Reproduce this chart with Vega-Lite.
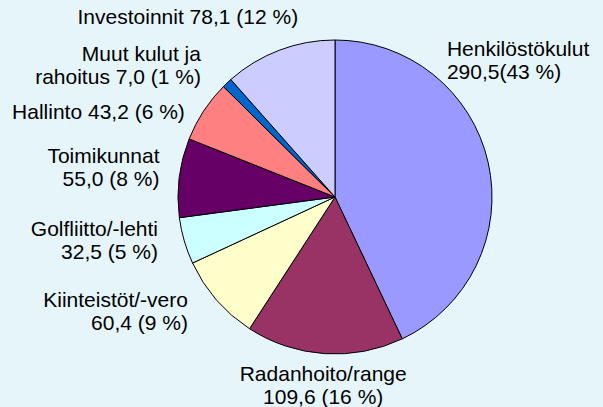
{
  "$schema": "https://vega.github.io/schema/vega-lite/v6.json",
  "autosize": "none",
  "width": 400,
  "height": 394,
  "padding": {"left": 135, "top": 0, "right": 68, "bottom": 13},
  "background": "#e6f5f9",
  "config": {"view": {"stroke": null}, "font": "Liberation Sans"},
  "data": {
    "values": [
      {"idx": 1, "name": "Henkilöstökulut", "value": 290.5, "label": "Henkilöstökulut\n290,5(43 %)"},
      {"idx": 2, "name": "Radanhoito/range", "value": 109.6, "label": "Radanhoito/range\n109,6 (16 %)"},
      {"idx": 3, "name": "Kiinteistöt/-vero", "value": 60.4, "label": "Kiinteistöt/-vero\n60,4 (9 %)"},
      {"idx": 4, "name": "Golfliitto/-lehti", "value": 32.5, "label": "Golfliitto/-lehti\n32,5 (5 %)"},
      {"idx": 5, "name": "Toimikunnat", "value": 55.0, "label": "Toimikunnat\n55,0 (8 %)"},
      {"idx": 6, "name": "Hallinto", "value": 43.2, "label": "Hallinto 43,2 (6 %)"},
      {"idx": 7, "name": "Muut kulut ja rahoitus", "value": 7.0, "label": "Muut kulut ja\nrahoitus 7,0 (1 %)"},
      {"idx": 8, "name": "Investoinnit", "value": 78.1, "label": "Investoinnit 78,1 (12 %)"}
    ]
  },
  "encoding": {
    "theta": {"field": "value", "type": "quantitative", "stack": true},
    "order": {"field": "idx", "type": "quantitative"}
  },
  "layer": [
    {
      "mark": {"type": "arc", "outerRadius": 157, "stroke": "#000000", "strokeWidth": 1},
      "encoding": {
        "color": {
          "field": "name",
          "type": "nominal",
          "legend": null,
          "scale": {
            "domain": ["Henkilöstökulut", "Radanhoito/range", "Kiinteistöt/-vero", "Golfliitto/-lehti", "Toimikunnat", "Hallinto", "Muut kulut ja rahoitus", "Investoinnit"],
            "range": ["#9999ff", "#993366", "#ffffcc", "#ccffff", "#660066", "#ff8080", "#0066cc", "#ccccff"]
          }
        }
      }
    },
    {
      "mark": {"type": "text", "radius": 180, "thetaOffset": 0.1, "align": "right", "baseline": "middle", "fontSize": 21, "lineHeight": 23, "lineBreak": "\n", "color": "#000000"},
      "encoding": {
        "text": {"condition": {"test": "datum.idx >= 3 && datum.idx <= 5", "field": "label"}, "value": ""}
      }
    },
    {
      "mark": {"type": "text", "radius": 172, "thetaOffset": -0.07, "align": "right", "baseline": "middle", "fontSize": 21, "lineHeight": 23, "lineBreak": "\n", "color": "#000000"},
      "encoding": {
        "text": {"condition": {"test": "datum.idx == 6", "field": "label"}, "value": ""}
      }
    },
    {
      "mark": {"type": "text", "radius": 195, "align": "right", "baseline": "middle", "fontSize": 21, "lineHeight": 23, "lineBreak": "\n", "color": "#000000"},
      "encoding": {
        "text": {"condition": {"test": "datum.idx == 7", "field": "label"}, "value": ""}
      }
    },
    {
      "mark": {"type": "text", "radius": 183, "thetaOffset": 0.16, "align": "right", "baseline": "middle", "fontSize": 21, "lineHeight": 23, "lineBreak": "\n", "color": "#000000"},
      "encoding": {
        "text": {"condition": {"test": "datum.idx == 8", "field": "label"}, "value": ""}
      }
    },
    {
      "mark": {"type": "text", "radius": 178, "align": "center", "baseline": "middle", "fontSize": 21, "lineHeight": 23, "lineBreak": "\n", "color": "#000000"},
      "encoding": {
        "text": {"condition": {"test": "datum.idx == 2", "field": "label"}, "value": ""}
      }
    },
    {
      "mark": {"type": "text", "radius": 185, "thetaOffset": -0.7, "align": "left", "baseline": "middle", "fontSize": 21, "lineHeight": 23, "lineBreak": "\n", "color": "#000000"},
      "encoding": {
        "text": {"condition": {"test": "datum.idx == 1", "field": "label"}, "value": ""}
      }
    }
  ]
}
